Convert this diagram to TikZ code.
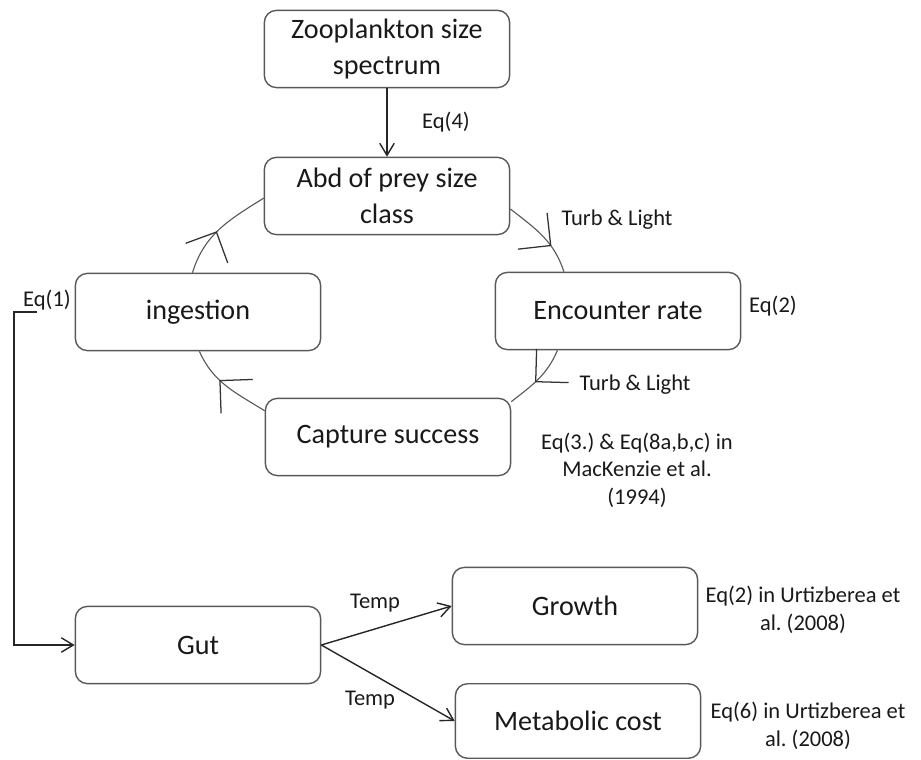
\documentclass[tikz,border=0pt]{standalone}
\usepackage{fontspec}
\setmainfont{Carlito}
\frenchspacing
\usetikzlibrary{arrows.meta,decorations.markings}

\tikzset{
  box/.style={draw=black!65, line width=1pt, rounded corners=0.3cm, fill=white,
    minimum width=6.13cm, minimum height=1.93cm, inner sep=0pt, align=center,
    text=black!90, font=\fontsize{20}{26}\selectfont},
  lbl/.style={inner sep=0pt, align=center, text=black!90, font=\fontsize{16}{19.5}\selectfont},
  flow/.style={line width=1pt, draw=black!85, -{Straight Barb[length=0.3cm,width=0.36cm]}},
  cyc/.style 2 args={line width=0.8pt, draw=black!65, postaction={decorate},
    decoration={markings, mark=at position #1 with {\draw[line width=0.9pt, black!80, rotate=#2] (-0.58cm,0.58cm) -- (0,0) -- (-0.58cm,-0.58cm);}}}
}

\begin{document}
\begin{tikzpicture}[x=0.025cm, y=-0.025cm]
  \useasboundingbox (0,0) rectangle (921,760);
  % Boxes
  \node[box] (zoo) at (387,49) {Zooplankton size\\spectrum};
  \node[box] (abd) at (387,196) {Abd of prey size\\class};
  \node[box] (ing) at (198,312) {ingestion};
  \node[box] (enc) at (618,311) {Encounter rate};
  \node[box] (cap) at (388,437) {Capture success};
  \node[box] (gut) at (198,645) {Gut};
  \node[box] (gro) at (575,606) {Growth};
  \node[box, minimum height=1.86cm] (met) at (578,721) {Metabolic cost};

  % Labels
  \node[lbl] (eq4) at (446,122) {Eq(4)};
  \node[lbl] (tl1) at (617,220) {Turb \& Light};
  \node[lbl] (eq2) at (773,306) {Eq(2)};
  \node[lbl] (tl2) at (635,385) {Turb \& Light};
  \node[lbl] (eq3) at (637,470) {Eq(3.) \& Eq(8a,b,c) in\\MacKenzie et al.\\(1994)};
  \node[lbl] (eq1) at (47,300) {Eq(1)};
  \node[lbl] (tp1) at (375,603) {Temp};
  \node[lbl] (tp2) at (370,700) {Temp};
  \node[lbl] (eqg) at (803,610) {Eq(2) in Urtizberea et\\al. (2008)};
  \node[lbl] (eqm) at (808,726) {Eq(6) in Urtizberea et\\al. (2008)};

  % Feeding cycle
  \draw[cyc={0.65}{15}] (abd.-6) to[out=-38, in=108] (enc.144);
  \draw[cyc={0.55}{0}] (enc.-147) to[out=-113, in=38] (cap.16);
  \draw[cyc={0.6}{0}] (cap.168) to[out=148, in=-66] (ing.-88);
  \draw[cyc={0.45}{20}] (ing.98) to[out=73, in=-148] (abd.181);

  % Arrows
  \draw[flow] (zoo) -- (abd);
  \coordinate (eqs) at (37,312);
  \coordinate (corner) at (14,312);
  \draw[flow] (eqs) -- (corner) |- (gut.west);
  \draw[flow] (gut.east) -- (gro.west);
  \draw[flow] (gut.east) -- (met.west);
\end{tikzpicture}
\end{document}
